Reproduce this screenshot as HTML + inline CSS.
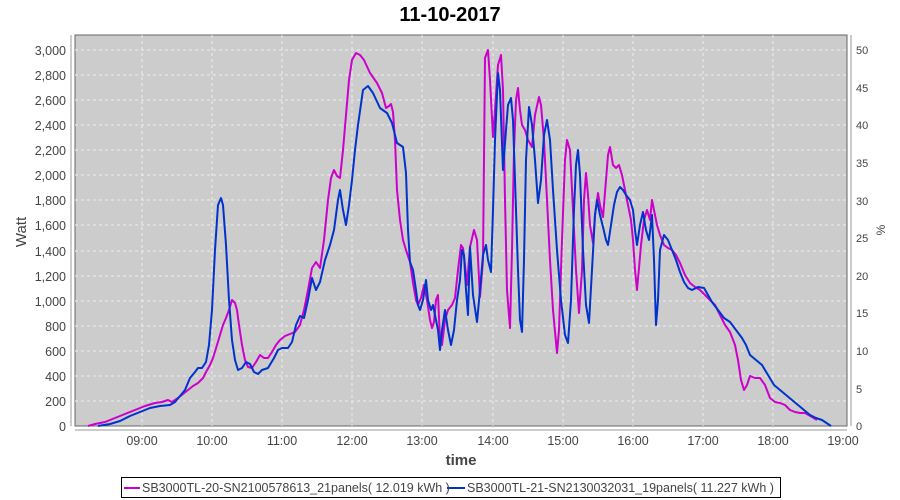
<!DOCTYPE html>
<html><head><meta charset="utf-8"><style>
body{margin:0;background:#fff;}
svg{display:block;font-family:"Liberation Sans",sans-serif;}
</style></head><body>
<svg width="900" height="500" viewBox="0 0 900 500">
<text x="450" y="21" text-anchor="middle" font-size="20" font-weight="bold" fill="#000">11-10-2017</text>
<rect x="75" y="35" width="772" height="391" fill="#cccccc" stroke="#666" stroke-width="1"/>
<g stroke="#eee" stroke-width="1" stroke-dasharray="3,3">
<line x1="75" x2="847" y1="50" y2="50"/><line x1="75" x2="847" y1="75" y2="75"/><line x1="75" x2="847" y1="100" y2="100"/><line x1="75" x2="847" y1="125" y2="125"/><line x1="75" x2="847" y1="150" y2="150"/><line x1="75" x2="847" y1="175" y2="175"/><line x1="75" x2="847" y1="200" y2="200"/><line x1="75" x2="847" y1="225" y2="225"/><line x1="75" x2="847" y1="251" y2="251"/><line x1="75" x2="847" y1="276" y2="276"/><line x1="75" x2="847" y1="301" y2="301"/><line x1="75" x2="847" y1="326" y2="326"/><line x1="75" x2="847" y1="351" y2="351"/><line x1="75" x2="847" y1="376" y2="376"/><line x1="75" x2="847" y1="401" y2="401"/>
<line y1="35" y2="426" x1="142" x2="142"/><line y1="35" y2="426" x1="212" x2="212"/><line y1="35" y2="426" x1="282" x2="282"/><line y1="35" y2="426" x1="352" x2="352"/><line y1="35" y2="426" x1="422" x2="422"/><line y1="35" y2="426" x1="493" x2="493"/><line y1="35" y2="426" x1="563" x2="563"/><line y1="35" y2="426" x1="633" x2="633"/><line y1="35" y2="426" x1="703" x2="703"/><line y1="35" y2="426" x1="773" x2="773"/>
</g>
<g stroke="#999" stroke-width="1" fill="none">
<line x1="71" y1="35" x2="71" y2="426"/>
<line x1="851" y1="35" x2="851" y2="426"/>
<line x1="75" y1="430" x2="847" y2="430"/>
</g>
<g font-size="12.5" fill="#444" text-anchor="end">
<text x="66" y="55">3,000</text><text x="66" y="80">2,800</text><text x="66" y="105">2,600</text><text x="66" y="130">2,400</text><text x="66" y="155">2,200</text><text x="66" y="180">2,000</text><text x="66" y="205">1,800</text><text x="66" y="230">1,600</text><text x="66" y="256">1,400</text><text x="66" y="281">1,200</text><text x="66" y="306">1,000</text><text x="66" y="331">800</text><text x="66" y="356">600</text><text x="66" y="381">400</text><text x="66" y="406">200</text><text x="66" y="431">0</text>
</g>
<g font-size="11" fill="#444">
<text x="856" y="54">50</text><text x="856" y="92">45</text><text x="856" y="129">40</text><text x="856" y="167">35</text><text x="856" y="205">30</text><text x="856" y="242">25</text><text x="856" y="280">20</text><text x="856" y="317">15</text><text x="856" y="355">10</text><text x="856" y="393">5</text><text x="856" y="430">0</text>
</g>
<g font-size="12.5" fill="#444" text-anchor="middle">
<text x="142" y="445">09:00</text><text x="212" y="445">10:00</text><text x="282" y="445">11:00</text><text x="352" y="445">12:00</text><text x="422" y="445">13:00</text><text x="493" y="445">14:00</text><text x="563" y="445">15:00</text><text x="633" y="445">16:00</text><text x="703" y="445">17:00</text><text x="773" y="445">18:00</text><text x="843" y="445">19:00</text>
</g>
<text x="461" y="465" text-anchor="middle" font-size="15" font-weight="bold" fill="#444">time</text>
<text transform="translate(26,232) rotate(-90)" text-anchor="middle" font-size="15" fill="#444">Watt</text>
<text transform="translate(885,230) rotate(-90)" text-anchor="middle" font-size="12" fill="#444">%</text>
<polyline fill="none" stroke="#cc00cc" stroke-width="2" stroke-linejoin="round" points="88,426 95,424 105,422 115,418 125,414 135,410 145,406 155,403 162,402 168,400 172,402 178,398 183,394 188,390 193,386 198,383 203,378 206,372 210,365 213,358 217,345 220,335 223,325 226,318 229,310 232,300 235,303 237,310 239,325 242,345 245,360 248,367 252,368 256,362 260,355 264,358 268,358 272,352 276,345 280,340 285,336 290,334 295,332 300,325 304,310 308,290 312,268 316,262 320,268 324,240 328,200 331,178 334,170 337,176 340,178 343,150 346,115 349,80 352,60 356,53 360,55 364,60 370,73 377,83 382,93 386,108 389,106 391,104 393,112 395,140 397,190 400,220 403,240 406,250 410,262 413,283 416,300 418,305 421,298 424,285 427,300 430,320 432,328 434,322 436,300 438,295 440,340 442,345 445,320 448,310 452,305 455,298 458,270 461,245 463,248 465,265 467,285 470,247 474,230 477,240 480,297 483,260 485,58 488,50 490,80 493,137 495,110 498,65 501,55 503,90 505,200 507,290 510,328 512,250 514,150 516,100 518,88 520,110 522,125 525,130 528,140 532,147 535,115 539,97 541,105 544,140 547,200 550,260 553,310 557,353 559,330 562,240 565,160 567,140 570,150 573,210 576,270 579,313 582,270 584,200 586,173 588,195 590,225 593,243 595,215 598,193 600,205 603,217 606,180 608,155 610,147 613,165 616,168 619,165 622,175 625,190 628,205 631,220 633,240 635,270 637,290 639,268 641,245 644,220 647,210 650,220 652,200 654,210 657,225 660,235 664,245 668,248 672,250 676,255 680,263 685,275 690,283 695,287 700,290 705,295 710,300 715,305 720,315 725,325 730,332 735,345 738,360 741,380 744,390 747,385 750,376 755,378 760,378 765,385 770,398 775,402 780,403 785,405 790,410 795,412 800,413 805,413 812,417 817,420"/>
<polyline fill="none" stroke="#0033cc" stroke-width="2" stroke-linejoin="round" points="98,426 110,424 120,421 130,416 140,412 150,408 160,406 170,405 175,402 180,396 185,390 190,378 195,372 198,368 202,368 206,362 209,345 212,310 215,250 218,205 221,198 223,205 226,245 229,300 232,340 235,360 238,370 242,368 246,362 250,364 254,372 258,374 262,370 268,368 274,358 278,350 282,348 288,348 292,342 296,325 300,316 304,318 308,300 312,278 316,290 320,282 325,260 330,245 334,230 338,200 340,190 343,210 346,225 349,205 352,180 355,150 358,125 363,90 368,86 373,93 380,108 387,113 392,123 397,143 403,147 406,173 408,230 410,262 413,270 416,290 418,305 420,310 423,300 426,280 428,300 431,310 433,305 436,320 438,330 440,350 442,330 445,310 448,330 451,345 454,330 457,300 460,280 462,250 464,255 466,290 468,315 470,247 473,295 477,322 480,290 483,255 486,245 488,260 491,272 493,210 495,140 498,73 500,90 503,170 506,130 508,105 511,98 513,120 515,180 518,270 520,320 522,332 524,260 526,160 529,107 532,125 535,160 538,203 541,180 544,135 547,120 550,140 553,190 557,250 561,300 565,335 568,343 571,300 574,210 576,165 578,150 580,175 583,250 586,305 589,323 592,270 595,215 597,200 600,215 603,227 606,240 608,245 611,225 614,205 617,192 620,187 623,190 626,195 630,200 633,210 635,230 637,245 640,225 643,212 646,230 649,240 652,215 654,260 656,325 658,300 660,250 664,235 668,240 672,250 676,260 680,272 684,282 688,288 692,290 698,287 704,288 708,295 712,302 718,310 724,318 730,322 736,330 742,338 746,345 750,355 756,360 762,365 768,375 774,385 780,390 786,395 792,400 798,405 804,410 810,415 816,418 822,420 828,424 831,426"/>
<rect x="121.5" y="477.5" width="659" height="20" fill="#fff" stroke="#000" stroke-width="1"/>
<line x1="124" y1="488" x2="140" y2="488" stroke="#cc00cc" stroke-width="2"/>
<line x1="447" y1="488" x2="465" y2="488" stroke="#0033cc" stroke-width="2"/>
<g font-size="12.5" fill="#444">
<text x="142" y="492">SB3000TL-20-SN2100578613_21panels( 12.019 kWh )</text>
<text x="467" y="492">SB3000TL-21-SN2130032031_19panels( 11.227 kWh )</text>
</g>
</svg>
</body></html>
